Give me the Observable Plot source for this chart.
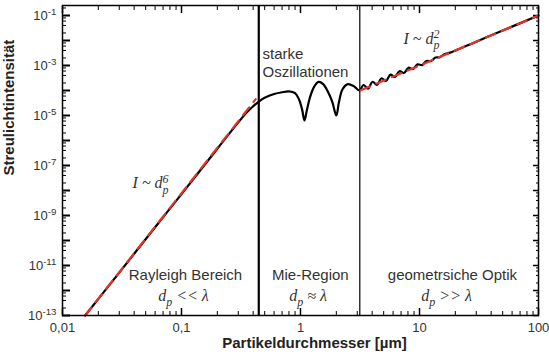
<!DOCTYPE html>
<html><head><meta charset="utf-8">
<script src="https://cdn.jsdelivr.net/npm/d3@7"></script>
<script src="https://cdn.jsdelivr.net/npm/@observablehq/plot@0.6"></script>
<style>
html,body{margin:0;padding:0;background:#fff;}
#chart svg{display:block;}
</style></head><body><div id="chart"></div>
<script>
// ---- data (log-log) ----
// black curve: scattered intensity vs particle diameter
const curveX = [0.0155, 0.03, 0.06, 0.1, 0.2, 0.3, 0.35, 0.4, 0.45, 0.5, 0.6, 0.7, 0.8, 0.9, 0.97, 1.03, 1.08, 1.13, 1.2, 1.3, 1.42, 1.55, 1.7, 1.85, 2.0, 2.1, 2.25, 2.5, 2.8, 3.13,
  3.38, 3.69, 4.03, 4.39, 4.79, 5.23, 5.71, 6.22, 6.79, 7.41, 8.08, 8.82, 9.62, 10.5, 11.45, 12.49, 13.63, 14.87, 16.23, 17.87, 30, 50, 100];
const curveY = [1e-13, 5.2e-12, 3.4e-10, 7.2e-9, 4.7e-7, 5.3e-6, 1.26e-5, 2.35e-5, 3.7e-5, 5.1e-5, 7.2e-5, 8.5e-5, 9.2e-5, 7.9e-5, 4.5e-5, 1.8e-5, 6.3e-6, 1.6e-5, 5.2e-5, 1.4e-4, 2.2e-4, 1.8e-4, 8.9e-5, 3.5e-5, 1.0e-5, 3.2e-5, 1.1e-4, 1.8e-4, 1.5e-4, 1.0e-4,
  1.66e-4, 1.19e-4, 2.24e-4, 1.68e-4, 3.08e-4, 2.43e-4, 4.30e-4, 3.47e-4, 5.92e-4, 5.0e-4, 8.15e-4, 7.23e-4, 1.11e-3, 1.04e-3, 1.52e-3, 1.50e-3, 2.07e-3, 2.17e-3, 2.83e-3, 3.19e-3, 9.0e-3, 0.025, 0.1];
// red dashed asymptotes
const rayleighX = [0.0155, 0.42];
const rayleighY = [1e-13, 4.5e-5];
const geoX = [3.2, 100];
const geoY = [1.02e-4, 0.1];
// region boundaries
const boundaryThick = [0.446];
const boundaryThin = [3.15];
// tick labels
const xTickValues = [0.01, 0.1, 1, 10, 100];
const xTickLabels = ["0,01", "0,1", "1", "10", "100"];
const yTickValues = [1e-1, 1e-3, 1e-5, 1e-7, 1e-9, 1e-11, 1e-13];
const yTickLabels = ["10^{-1}", "10^{-3}", "10^{-5}", "10^{-7}", "10^{-9}", "10^{-11}", "10^{-13}"];
// annotations
const regionNames = ["Rayleigh Bereich", "Mie-Region", "geometrsiche Optik"];
const regionNameX = [0.108, 1.21, 18.9];
const regionNameY = [4e-12, 4e-12, 4e-12];
const regionConds = ["d_{p} << λ", "d_{p} ≈ λ", "d_{p} >> λ"];
const regionCondX = [0.104, 1.16, 16.9];
const regionCondY = [6.3e-13, 6.3e-13, 6.3e-13];
const lawTexts = ["I ~ d_{p}^{6}", "I ~ d_{p}^{2}"];
const lawX = [0.055, 10.4];
const lawY = [2e-8, 0.012];
const mieNote = ["starke\nOszillationen"];
const mieNoteX = [0.48];
const mieNoteY = [1.4e-3];
const xTitle = "Partikeldurchmesser [µm]";
const yTitle = "Streulichtintensität";

// ---- tables built from the arrays ----
const curve = curveX.map((x, i) => ({x, y: curveY[i]}));
const rayleigh = rayleighX.map((x, i) => ({x, y: rayleighY[i]}));
const geo = geoX.map((x, i) => ({x, y: geoY[i]}));
const names = regionNames.map((t, i) => ({t, x: regionNameX[i], y: regionNameY[i]}));
const conds = regionConds.map((t, i) => ({t, x: regionCondX[i], y: regionCondY[i]}));
const laws = lawTexts.map((t, i) => ({t, x: lawX[i], y: lawY[i]}));
const note = mieNote.map((t, i) => ({t, x: mieNoteX[i], y: mieNoteY[i]}));

const xLog = d3.scaleLog().domain([0.01, 100]);
const xMinor = xLog.ticks().filter(v => !xTickValues.some(m => Math.abs(m - v) / m < 1e-9));
const yMajor = d3.range(-13, 0).map(e => Math.pow(10, e));
const yMinor = [];
yMajor.forEach(v => [2, 4, 6, 8].forEach(k => { if (v * k < 0.25) yMinor.push(v * k); }));

const red = "#e3342a";
const ink = "#333";

const chart = Plot.plot({
  width: 549, height: 354,
  marginLeft: 62, marginRight: 11, marginTop: 5, marginBottom: 39,
  x: {type: "log", domain: [0.01, 100]},
  y: {type: "log", domain: [1e-13, 0.2512]},
  style: {fontFamily: "'Liberation Sans', Arial, sans-serif", fontSize: "12px", background: "white", color: "black", overflow: "visible"},
  marks: [
    // tick marks (inward)
    Plot.axisX(xTickValues, {anchor: "bottom", tickSize: -7, strokeWidth: 1.5, fill: "none", label: null}),
    Plot.axisX(xMinor, {anchor: "bottom", tickSize: -4, strokeWidth: 1, fill: "none", label: null}),
    Plot.axisX(xTickValues, {anchor: "top", tickSize: -7, strokeWidth: 1.5, fill: "none", label: null}),
    Plot.axisX(xMinor, {anchor: "top", tickSize: -4, strokeWidth: 1, fill: "none", label: null}),
    Plot.axisY(yMajor, {anchor: "left", tickSize: -8, strokeWidth: 2, fill: "none", label: null}),
    Plot.axisY(yMinor, {anchor: "left", tickSize: -4, strokeWidth: 1, fill: "none", label: null}),
    Plot.axisY(yMajor, {anchor: "right", tickSize: -6, strokeWidth: 1.5, fill: "none", label: null}),
    Plot.axisY(yMinor, {anchor: "right", tickSize: -3, strokeWidth: 1, fill: "none", label: null}),
    // tick labels
    Plot.axisX(xTickValues, {anchor: "bottom", tickSize: 0, tickPadding: 7, fill: ink, fontSize: 13, label: null,
      tickFormat: d => xTickLabels[xTickValues.indexOf(d)]}),
    Plot.axisY(yTickValues, {anchor: "left", tickSize: 0, tickPadding: 6, fill: ink, fontSize: 13, label: null,
      tickFormat: d => yTickLabels[yTickValues.indexOf(d)]}),
    // boundaries
    Plot.ruleX(boundaryThick, {stroke: "black", strokeWidth: 2.2}),
    Plot.ruleX(boundaryThin, {stroke: "black", strokeWidth: 1.2}),
    // curve and asymptotes
    Plot.line(curve, {x: "x", y: "y", stroke: "black", strokeWidth: 2.2, curve: "catmull-rom"}),
    Plot.line(rayleigh, {x: "x", y: "y", stroke: red, strokeWidth: 2.2, strokeDasharray: "10,7"}),
    Plot.line(geo, {x: "x", y: "y", stroke: red, strokeWidth: 2.2, strokeDasharray: "10,7"}),
    // annotations
    Plot.text(names, {x: "x", y: "y", text: "t", fontSize: 15, fill: ink}),
    Plot.text(conds, {x: "x", y: "y", text: "t", fontSize: 16, fill: ink, fontStyle: "italic", fontFamily: "'Liberation Serif', 'Times New Roman', serif"}),
    Plot.text(laws, {x: "x", y: "y", text: "t", fontSize: 16, fill: ink, fontStyle: "italic", fontFamily: "'Liberation Serif', 'Times New Roman', serif"}),
    Plot.text(note, {x: "x", y: "y", text: "t", fontSize: 15, fill: ink, textAnchor: "start", lineHeight: 1.2}),
    // axis titles
    Plot.text([xTitle], {frameAnchor: "bottom", dy: 32, dx: 14, fontSize: 15, fontWeight: "bold", fill: "#222"}),
    Plot.text([yTitle], {frameAnchor: "left", rotate: -90, dx: -53, dy: 15, fontSize: 15, fontWeight: "bold", fill: "#222"}),
    Plot.frame({stroke: "black", strokeWidth: 1.5})
  ]
});
document.getElementById("chart").appendChild(chart);

// render "_{..}" and "^{..}" as sub/superscript tspans
const NS = "http://www.w3.org/2000/svg";
function richify(el) {
  const s = el.textContent;
  if (!/[\^_]\{/.test(s)) return;
  const base = parseFloat(getComputedStyle(el).fontSize) || 12;
  while (el.firstChild) el.removeChild(el.firstChild);
  let shift = 0, lastSub = null;
  for (const m of s.matchAll(/([\^_])\{([^}]*)\}|([^\^_]+)/g)) {
    const t = document.createElementNS(NS, "tspan");
    if (m[3] !== undefined) {
      t.textContent = m[3];
      if (shift) t.setAttribute("dy", -shift);
      shift = 0; lastSub = null;
      el.appendChild(t);
    } else {
      const target = m[1] === "^" ? -0.35 * base : 0.35 * base;
      t.setAttribute("font-size", 0.75 * base);
      t.textContent = m[2];
      if (target - shift) t.setAttribute("dy", target - shift);
      el.appendChild(t);
      if (m[1] === "^" && lastSub) t.setAttribute("dx", -lastSub.getComputedTextLength());
      shift = target;
      lastSub = m[1] === "_" ? t : null;
    }
  }
}
chart.querySelectorAll("text").forEach(richify);
</script></body></html>
